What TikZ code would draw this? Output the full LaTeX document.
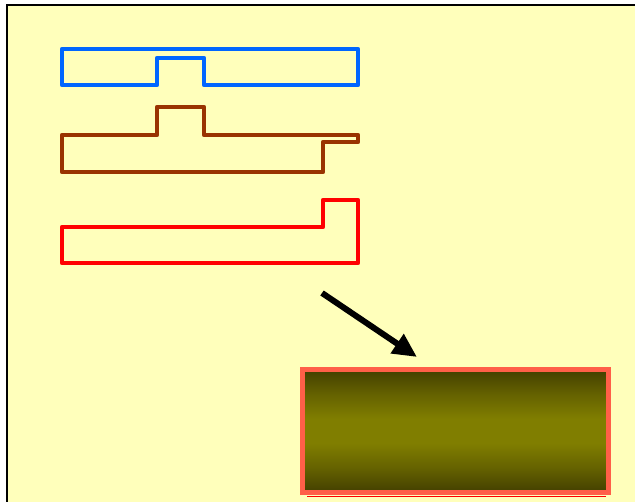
\documentclass[tikz,border=0pt]{standalone}
\usetikzlibrary{arrows.meta}
\definecolor{bgyellow}{HTML}{FFFFBB}
\definecolor{sblue}{HTML}{0066FF}
\definecolor{sbrown}{HTML}{993300}
\definecolor{sred}{HTML}{FF0000}
\definecolor{boxedge}{HTML}{FF5F48}
\definecolor{olivedark}{HTML}{433F00}
\definecolor{olivemid}{HTML}{807E00}
\pgfdeclareverticalshading{olivebar}{100bp}{color(0bp)=(olivedark); color(25bp)=(olivedark); color(35bp)=(olivedark!45!olivemid); color(45bp)=(olivemid); color(55bp)=(olivemid); color(65bp)=(olivedark!45!olivemid); color(75bp)=(olivedark); color(100bp)=(olivedark)}
\tikzset{
  outline/.style={line width=4.5pt, line join=round, line cap=round},
  pointer/.style={line width=6pt, -{Triangle[length=24pt,width=22pt]}},
}
\begin{document}
\begin{tikzpicture}[x=1pt,y=1pt]
\useasboundingbox (0,0) rectangle (635,502);
% frame
\fill[white] (0,0) rectangle (635,502);
\draw[line width=2pt, fill=bgyellow] (7,497) rectangle (660,-30);
% blue part
\draw[outline, sblue] (62,453) -- (358,453) -- (358,417) -- (204,417) -- (204,444) -- (157,444) -- (157,417) -- (62,417) -- cycle;
% brown part
\draw[outline, sbrown] (62,367) -- (157,367) -- (157,395) -- (204,395) -- (204,367) -- (358,367) -- (358,360) -- (323,360) -- (323,330) -- (62,330) -- cycle;
% red part
\draw[outline, sred] (62,275) -- (323,275) -- (323,302) -- (358,302) -- (358,239) -- (62,239) -- cycle;
% result box
\draw[sred, line width=1.5pt] (307,5.5) -- (606,5.5);
\shade[shading=olivebar] (302,9.5) rectangle (608,132.5);
\node[draw=boxedge, line width=5pt, outer sep=0pt, minimum width=306pt, minimum height=123pt, inner sep=0pt, anchor=north west] (result) at (302,132.5) {};
% arrow
\coordinate (from) at (322,209);
\coordinate (to) at (417,145);
\draw[pointer] (from) -- (to);
\end{tikzpicture}
\end{document}
